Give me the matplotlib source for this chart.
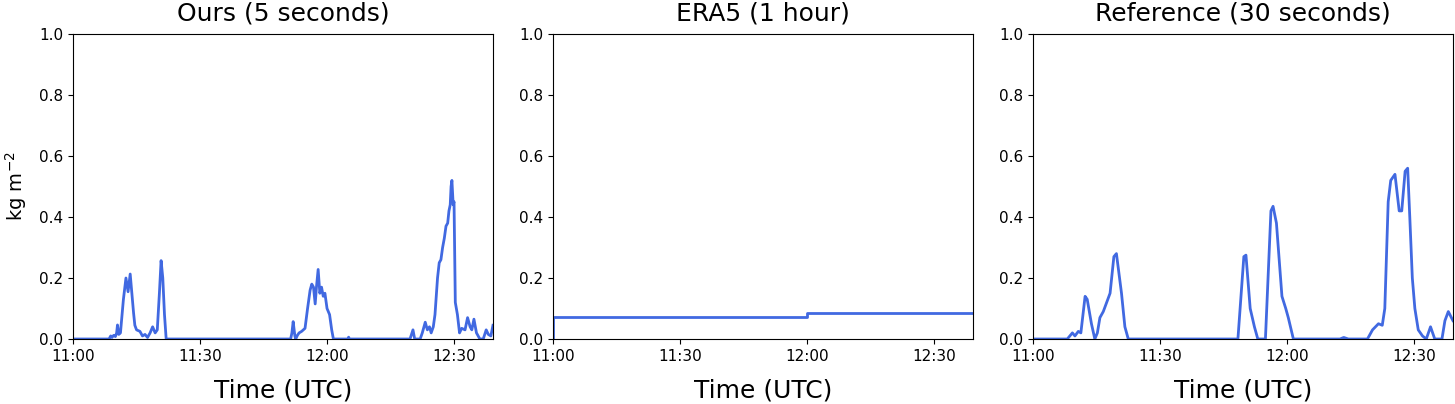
import matplotlib
matplotlib.use("Agg")
import matplotlib.pyplot as plt
import matplotlib.dates as mdates
import pandas as pd

# minutes after 11:00 UTC, values in kg m^-2
ours_min = [0, 8.5, 8.9, 9.2, 9.6, 10.0, 10.3, 10.5, 10.8, 11.2, 11.9, 12.5, 13.0,
            13.5, 14.3, 14.6, 15.0, 15.8, 16.4, 17.0, 17.6, 18.2, 18.8, 19.4, 19.9,
            20.4, 20.8, 21.2, 21.6, 22.0,
            51.4, 51.7, 52.0, 52.4, 52.6, 53.0, 53.4, 54.0, 54.8, 55.4, 56.0, 56.4,
            56.8, 57.2, 57.5, 57.9, 58.3, 58.7, 59.1, 59.5, 60.0, 60.6, 61.1, 61.5,
            64.9, 65.1, 65.3,
            79.6, 80.3, 80.7, 82.0, 82.5, 83.2, 83.7, 84.2, 84.6, 85.1, 85.5, 86.1,
            86.5, 86.9, 87.3, 87.7, 88.1, 88.5, 88.8, 89.1, 89.3, 89.5, 89.8, 90.0,
            90.3, 90.8, 91.3, 91.8, 92.6, 93.2, 93.8, 94.2, 94.7, 95.3, 96.1, 96.9,
            97.6, 98.1, 98.7, 99.2]
ours_val = [0, 0, 0.01, 0.005, 0.012, 0.008, 0.02, 0.046, 0.015, 0.02, 0.13, 0.20, 0.155,
            0.213, 0.085, 0.045, 0.03, 0.025, 0.01, 0.015, 0.005, 0.02, 0.04, 0.02, 0.03,
            0.15, 0.257, 0.2, 0.08, 0,
            0, 0.02, 0.057, 0.01, 0.0, 0.012, 0.02, 0.025, 0.035, 0.1, 0.16, 0.18,
            0.17, 0.115, 0.17, 0.228, 0.15, 0.17, 0.14, 0.15, 0.10, 0.08, 0.03, 0,
            0, 0.006, 0,
            0, 0.03, 0, 0, 0.02, 0.055, 0.03, 0.04, 0.02, 0.04, 0.08, 0.2,
            0.25, 0.26, 0.3, 0.33, 0.37, 0.38, 0.42, 0.44, 0.50, 0.52, 0.44, 0.45,
            0.12, 0.08, 0.02, 0.035, 0.03, 0.07, 0.04, 0.03, 0.065, 0.02, 0.0, 0.0,
            0.03, 0.015, 0.01, 0.045]

era5_min = [0, 0, 60, 60, 99.2]
era5_val = [0, 0.071, 0.071, 0.084, 0.084]

ref_min = [0, 8.1, 9.3, 9.9, 10.7, 11.3, 12.3, 12.8, 13.8, 14.6, 15.2, 15.8, 16.6,
           17.4, 18.2, 19.1, 19.7, 20.9, 21.7, 22.5,
           48.4, 49.8, 50.3, 51.3, 52.3, 53.1, 54.9, 56.2, 56.7, 57.5, 58.8, 59.7,
           60.3, 61.5,
           72.5, 73.4, 74.5, 79.0, 80.2, 81.6, 82.5, 83.1, 83.9, 84.5, 85.5, 86.5,
           87.1, 87.9, 88.5, 89.0, 89.6, 90.2, 91.0, 92.0, 92.9, 93.9, 94.9, 96.6,
           97.3, 98.1, 99.2]
ref_val = [0, 0, 0.02, 0.01, 0.025, 0.02, 0.14, 0.13, 0.05, 0, 0.02, 0.07, 0.09,
           0.12, 0.15, 0.27, 0.28, 0.15, 0.04, 0,
           0, 0.27, 0.275, 0.10, 0.04, 0, 0, 0.42, 0.435, 0.38, 0.14, 0.10,
           0.07, 0,
           0, 0.005, 0, 0, 0.03, 0.05, 0.045, 0.1, 0.45, 0.52, 0.54, 0.42,
           0.42, 0.55, 0.56, 0.40, 0.2, 0.1, 0.03, 0.01, 0, 0.04, 0, 0,
           0.06, 0.09, 0.06]

titles = ["Ours (5 seconds)", "ERA5 (1 hour)", "Reference (30 seconds)"]
series = [(ours_min, ours_val), (era5_min, era5_val), (ref_min, ref_val)]

start = pd.Timestamp("2020-01-01 11:00")
end = start + pd.Timedelta(minutes=99.2)

fig, axes = plt.subplots(1, 3, figsize=(14.55, 4.04), dpi=100)
fig.subplots_adjust(left=0.0502, right=0.9986, top=0.9158, bottom=0.1609, wspace=0.143)

for ax, title, (mins, vals) in zip(axes, titles, series):
    t = start + pd.to_timedelta(mins, unit="m")
    ax.plot(t, vals, color="royalblue", lw=2)
    ax.set_title(title, fontsize=18, pad=10)
    ax.set_xlim(start, end)
    ax.set_ylim(0, 1.0)
    ax.set_xlabel("Time (UTC)", fontsize=18, labelpad=11)
    ax.xaxis.set_major_locator(mdates.MinuteLocator(byminute=[0, 30]))
    ax.xaxis.set_major_formatter(mdates.DateFormatter("%H:%M"))
    ax.tick_params(labelsize=11)

axes[0].set_ylabel("kg m$^{-2}$", fontsize=14, labelpad=7)

plt.savefig("out.png", dpi=100)
plt.close()
